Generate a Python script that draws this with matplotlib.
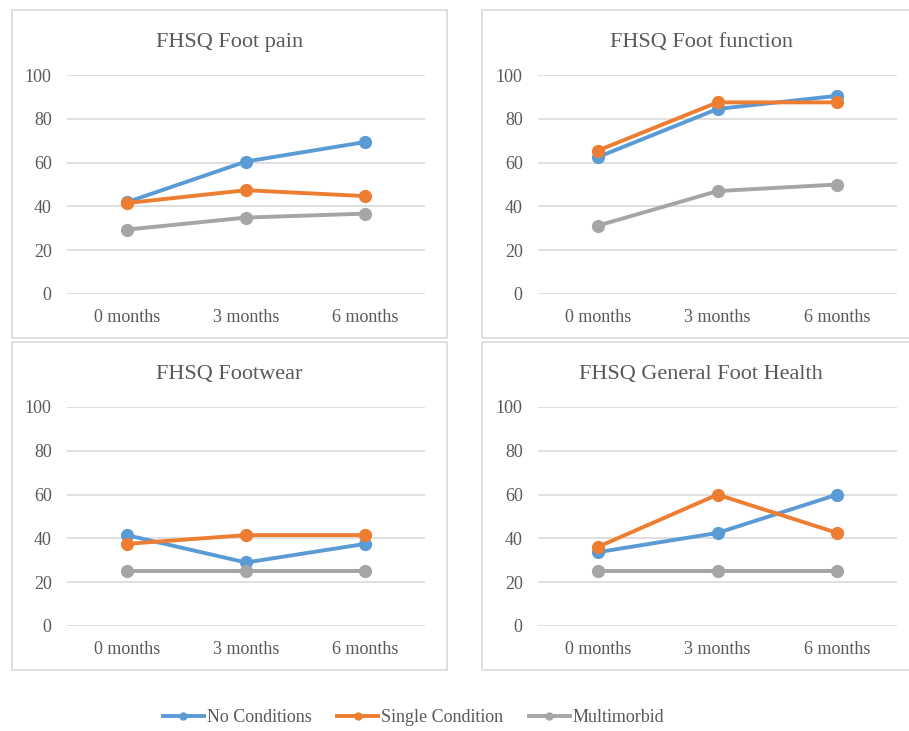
import matplotlib
matplotlib.use("Agg")
import matplotlib.pyplot as plt
from matplotlib.patches import Rectangle
from matplotlib.lines import Line2D

plt.rcParams['font.family'] = ['Liberation Serif', 'DejaVu Serif']

months = ['0 months', '3 months', '6 months']
series_names = ['No Conditions', 'Single Condition', 'Multimorbid']
colors = ['#5B9BD5', '#ED7D31', '#A5A5A5']

titles = ['FHSQ Foot pain', 'FHSQ Foot function', 'FHSQ Footwear', 'FHSQ General Foot Health']

pain_none = [41.9, 60.5, 69.4]
pain_single = [41.5, 47.4, 44.7]
pain_multi = [29.4, 34.9, 36.7]

func_none = [62.5, 84.5, 90.5]
func_single = [65.5, 87.5, 87.5]
func_multi = [31.2, 47.0, 50.0]

wear_none = [41.5, 29.0, 37.5]
wear_single = [37.5, 41.5, 41.5]
wear_multi = [25.0, 25.0, 25.0]

gen_none = [33.7, 42.5, 60.0]
gen_single = [36.1, 60.0, 42.5]
gen_multi = [25.0, 25.0, 25.0]

panel_data = [
    [pain_none, pain_single, pain_multi],
    [func_none, func_single, func_multi],
    [wear_none, wear_single, wear_multi],
    [gen_none, gen_single, gen_multi],
]

W, H = 909, 731
fig = plt.figure(figsize=(W / 100, H / 100), dpi=100)

# pixel layout: (axes left, right, top, bottom), (box left, right, top, bottom), title y
layout = [
    ((67, 425, 75, 294), (12, 447, 10, 338), 42),
    ((538, 897, 75, 294), (482, 920, 10, 338), 42),
    ((67, 425, 407, 626), (12, 447, 342, 670), 374),
    ((538, 897, 407, 626), (482, 920, 342, 670), 374),
]

txt = '#595959'
grid = '#D9D9D9'

for i, (ax_px, box_px, ty) in enumerate(layout):
    bl, br, bt, bb = box_px
    fig.patches.append(Rectangle((bl / W, 1 - bb / H), (br - bl) / W, (bb - bt) / H,
                                 transform=fig.transFigure, fill=False,
                                 edgecolor=grid, linewidth=1.2))
    l, r, t, b = ax_px
    ax = fig.add_axes([l / W, 1 - b / H, (r - l) / W, (b - t) / H])
    x = range(len(months))
    for vals, c in zip(panel_data[i], colors):
        ax.plot(x, vals, color=c, lw=2.8, marker='o', ms=8.5, clip_on=False, zorder=3)
    ax.set_xlim(-0.5, 2.5)
    ax.set_ylim(0, 100)
    ax.set_yticks([0, 20, 40, 60, 80, 100])
    ax.set_xticks(list(x))
    ax.set_xticklabels(months)
    ax.grid(axis='y', color=grid, lw=1.2)
    ax.set_axisbelow(True)
    for s in ax.spines.values():
        s.set_visible(False)
    ax.tick_params(axis='both', length=0, labelsize=13, colors=txt)
    ax.tick_params(axis='y', pad=11)
    ax.tick_params(axis='x', pad=11)
    fig.text((bl + br) / 2 / W, 1 - ty / H, titles[i], ha='center', va='center',
             fontsize=16, color=txt)

handles = [Line2D([], [], color=c, lw=2.8, marker='o', ms=5) for c in colors]
fig.legend(handles, series_names, loc='center', bbox_to_anchor=(413.5 / W, 1 - 718 / H),
           ncol=3, frameon=False, fontsize=13, handlelength=2.3, handletextpad=0.15,
           columnspacing=1.4, labelcolor=txt)

fig.savefig('out.png', dpi=100)
